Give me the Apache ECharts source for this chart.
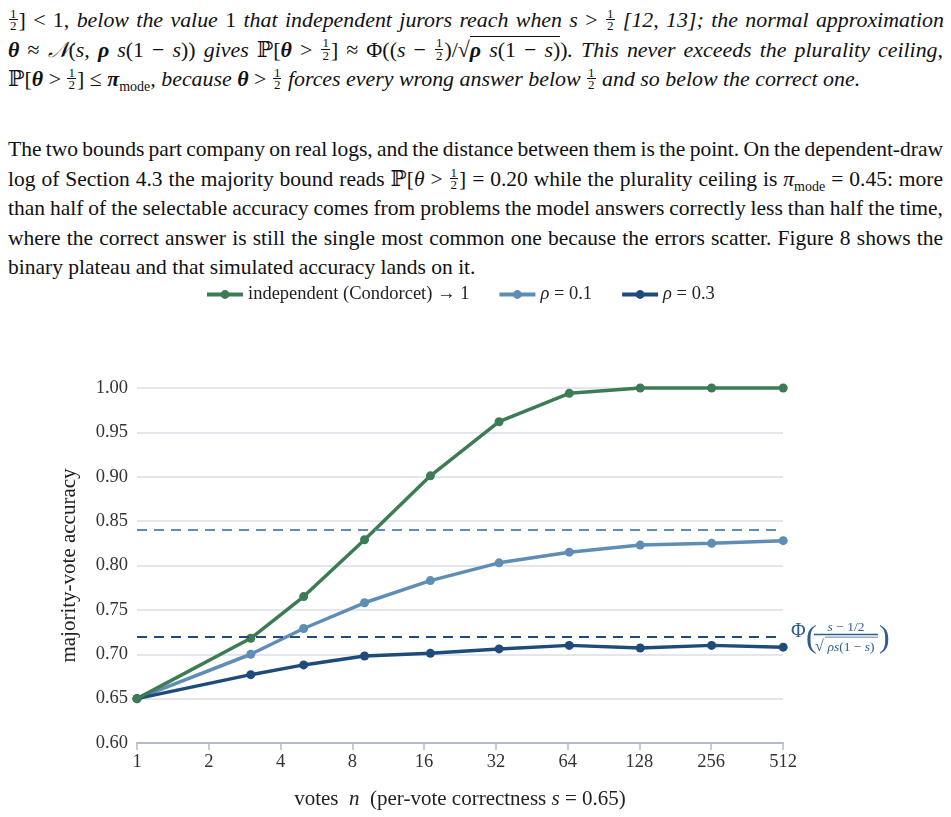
<!DOCTYPE html>
<html>
<head>
<meta charset="utf-8">
<script src="https://cdn.jsdelivr.net/npm/echarts@6/dist/echarts.min.js"></script>
<style>
html, body { margin: 0; padding: 0; background: #fff; }
body { width: 951px; height: 817px; position: relative; overflow: hidden;
  font-family: "Liberation Serif", "DejaVu Serif", serif; color: #111; }
#chart { position: absolute; left: 0; top: 0; width: 951px; height: 817px; }
.para { position: absolute; left: 8px; width: 935px; font-size: 21.5px; line-height: 29.5px; }
.para.it { font-size: 21.9px; }
.ln { display: block; white-space: nowrap; }
.it { font-style: italic; }
.up { font-style: normal; }
.fr { display: inline-block; vertical-align: middle; text-align: center; font-size: 13px;
  line-height: 11.5px; font-style: normal; margin: -4px 1px 0; }
.fr > span { display: block; padding: 0 1px; }
.fr > span:first-child { border-bottom: 1px solid #111; }
.sq { border-top: 1px solid #111; }
sub { font-size: 14px; line-height: 0; }
</style>
</head>
<body>
<div class="para it" style="top:5px">
  <span class="ln"><span class="fr"><span>1</span><span>2</span></span><span class="up">] &lt; 1,</span> below the value <span class="up">1</span> that independent jurors reach when s <span class="up">&gt;</span> <span class="fr"><span>1</span><span>2</span></span> [12, 13]; the normal approximation</span>
  <span class="ln"><b>θ</b> <span class="up">≈</span> 𝒩<span class="up">(</span>s, <b>ρ</b> s<span class="up">(1 − </span>s<span class="up">))</span> gives <span class="up">ℙ[</span><b>θ</b> <span class="up">&gt;</span> <span class="fr"><span>1</span><span>2</span></span><span class="up">] ≈ Φ((</span>s <span class="up">−</span> <span class="fr"><span>1</span><span>2</span></span><span class="up">)/√</span><span class="sq"><b>ρ</b> s<span class="up">(1 − </span>s<span class="up">)</span></span><span class="up">)</span>. This never exceeds the plurality ceiling,</span>
  <span class="ln last"><span class="up">ℙ[</span><b>θ</b> <span class="up">&gt;</span> <span class="fr"><span>1</span><span>2</span></span><span class="up">] ≤</span> <b>π</b><sub class="up">mode</sub>, because <b>θ</b> <span class="up">&gt;</span> <span class="fr"><span>1</span><span>2</span></span> forces every wrong answer below <span class="fr"><span>1</span><span>2</span></span> and so below the correct one.</span>
</div>
<div class="para" style="top:135px">
  <span class="ln">The two bounds part company on real logs, and the distance between them is the point. On the dependent-draw</span>
  <span class="ln">log of Section 4.3 the majority bound reads ℙ[<i>θ</i> &gt; <span class="fr"><span>1</span><span>2</span></span>] = 0.20 while the plurality ceiling is <i>π</i><sub>mode</sub> = 0.45: more</span>
  <span class="ln">than half of the selectable accuracy comes from problems the model answers correctly less than half the time,</span>
  <span class="ln">where the correct answer is still the single most common one because the errors scatter. Figure 8 shows the</span>
  <span class="ln last">binary plateau and that simulated accuracy lands on it.</span>
</div>
<div id="chart"></div>
<script>
// justify each typeset line to the column width
document.querySelectorAll('.ln:not(.last)').forEach(function (ln) {
  var r = document.createRange();
  r.selectNodeContents(ln);
  var w = r.getBoundingClientRect().width;
  var gaps = (ln.textContent.trim().match(/ /g) || []).length;
  if (gaps) ln.style.wordSpacing = ((935 - w) / gaps) + 'px';
});

// votes n and the accuracy
const nVotes = [1, 3, 5, 9, 17, 33, 65, 129, 257, 513];
const indepAcc = [0.650, 0.718, 0.765, 0.829, 0.901, 0.962, 0.994, 1.000, 1.000, 1.000];
const rho01Acc = [0.650, 0.700, 0.729, 0.758, 0.783, 0.803, 0.815, 0.823, 0.825, 0.828];
const rho03Acc = [0.650, 0.677, 0.688, 0.698, 0.701, 0.706, 0.710, 0.707, 0.710, 0.708];
// normal-approximation plateaus (dashed)
const bound01 = 0.840;
const bound03 = 0.717;
const xTickLabels = ['1', '2', '4', '8', '16', '32', '64', '128', '256', '512'];

const serif = '"Liberation Serif", "DejaVu Serif", serif';
const green = '#3d7b55';
const light = '#5f8db4';
const dark = '#1f4b7b';

var chartDom = document.getElementById('chart');
var myChart = echarts.init(chartDom);

function pts(vals) {
  return nVotes.map((n, i) => [Math.log2(n), vals[i]]);
}

function lineSeries(name, color, vals, bound) {
  var s = {
    name: name,
    type: 'line',
    data: pts(vals),
    clip: false,
    color: color,
    symbol: 'circle',
    symbolSize: 9,
    lineStyle: { width: 3.5, color: color },
    itemStyle: { color: color },
    z: 3
  };
  if (bound != null) {
    s.markLine = {
      silent: true,
      symbol: 'none',
      label: { show: false },
      lineStyle: { type: [10, 7], width: 2, color: color },
      data: [{ yAxis: bound }]
    };
  }
  return s;
}

var richText = {
  r: { fontFamily: serif, fontSize: 18.5, color: '#222' },
  i: { fontFamily: serif, fontSize: 18.5, color: '#222', fontStyle: 'italic' }
};

var option = {
  animation: false,
  textStyle: { fontFamily: serif },
  legend: {
    left: 200,
    top: 280,
    itemWidth: 36,
    itemHeight: 11,
    itemGap: 28,
    lineStyle: { width: 4 },
    data: ['independent (Condorcet) → 1', 'ρ = 0.1', 'ρ = 0.3'],
    formatter: function (name) {
      if (name.charAt(0) === 'ρ') return '{i|ρ}{r|' + name.slice(1) + '}';
      return '{r|' + name + '}';
    },
    textStyle: { rich: richText }
  },
  grid: { left: 137, right: 168, top: 388, bottom: 74 },
  xAxis: {
    type: 'value',
    min: 0,
    max: 9,
    interval: 1,
    name: '{r|votes  }{i|n}{r|  (per-vote correctness }{i|s}{r| = 0.65)}',
    nameLocation: 'middle',
    nameGap: 46,
    nameTextStyle: {
      rich: {
        r: { fontFamily: serif, fontSize: 21, color: '#222' },
        i: { fontFamily: serif, fontSize: 21, color: '#222', fontStyle: 'italic' }
      }
    },
    axisLine: { lineStyle: { color: '#b3bcc6', width: 2 } },
    axisTick: { show: true, length: 7, lineStyle: { color: '#b3bcc6', width: 1.5 } },
    splitLine: { show: false },
    axisLabel: {
      margin: 10,
      fontSize: 18.5,
      color: '#333',
      fontFamily: serif,
      formatter: function (v) { return xTickLabels[Math.round(v)]; }
    }
  },
  yAxis: {
    type: 'value',
    min: 0.6,
    max: 1.0,
    interval: 0.05,
    name: 'majority-vote accuracy',
    nameLocation: 'middle',
    nameGap: 57,
    nameTextStyle: { fontFamily: serif, fontSize: 21, color: '#222' },
    axisLine: { show: false },
    axisTick: { show: false },
    splitLine: { lineStyle: { color: '#e3e7ed', width: 2 } },
    axisLabel: {
      margin: 9,
      fontSize: 18.5,
      color: '#333',
      fontFamily: serif,
      formatter: function (v) { return v.toFixed(2); }
    }
  },
  series: [
    lineSeries('ρ = 0.1', light, rho01Acc, bound01),
    lineSeries('ρ = 0.3', dark, rho03Acc, bound03),
    lineSeries('independent (Condorcet) → 1', green, indepAcc, null)
  ]
};
option && myChart.setOption(option);

// formula label next to the rho = 0.3 plateau
var p = myChart.convertToPixel({ gridIndex: 0 }, [9, bound03]);
var fc = '#2f5d8c';
var fracRich = {
  i: { fontStyle: 'italic', fontSize: 13.5, fontFamily: serif, fill: fc },
  r: { fontSize: 13.5, fontFamily: serif, fill: fc }
};
myChart.setOption({
  graphic: [
    { type: 'text', x: p[0] + 8, y: p[1] - 7, style: { text: 'Φ', fill: fc, font: '20px ' + serif, verticalAlign: 'middle' } },
    { type: 'text', x: p[0] + 23, y: p[1] - 1, style: { text: '(', fill: fc, font: '32px ' + serif, verticalAlign: 'middle' } },
    { type: 'text', x: p[0] + 63, y: p[1] - 12, style: { text: '{i|s}{r| − 1/2}', fill: fc, align: 'center', verticalAlign: 'middle', rich: fracRich } },
    { type: 'rect', shape: { x: p[0] + 31, y: p[1] - 5.5, width: 64, height: 1.6 }, style: { fill: fc } },
    { type: 'text', x: p[0] + 32, y: p[1] + 8, style: { text: '√', fill: fc, font: '16px ' + serif, verticalAlign: 'middle' } },
    { type: 'rect', shape: { x: p[0] + 42, y: p[1] - 2.5, width: 53, height: 0.8 }, style: { fill: fc } },
    { type: 'text', x: p[0] + 68, y: p[1] + 8, style: { text: '{i|ρs}{r|(1 − }{i|s}{r|)}', fill: fc, align: 'center', verticalAlign: 'middle', rich: fracRich } },
    { type: 'text', x: p[0] + 96, y: p[1] - 1, style: { text: ')', fill: fc, font: '32px ' + serif, verticalAlign: 'middle' } }
  ]
});

window.onresize = () => {
  myChart.resize();
};
</script>
</body>
</html>
